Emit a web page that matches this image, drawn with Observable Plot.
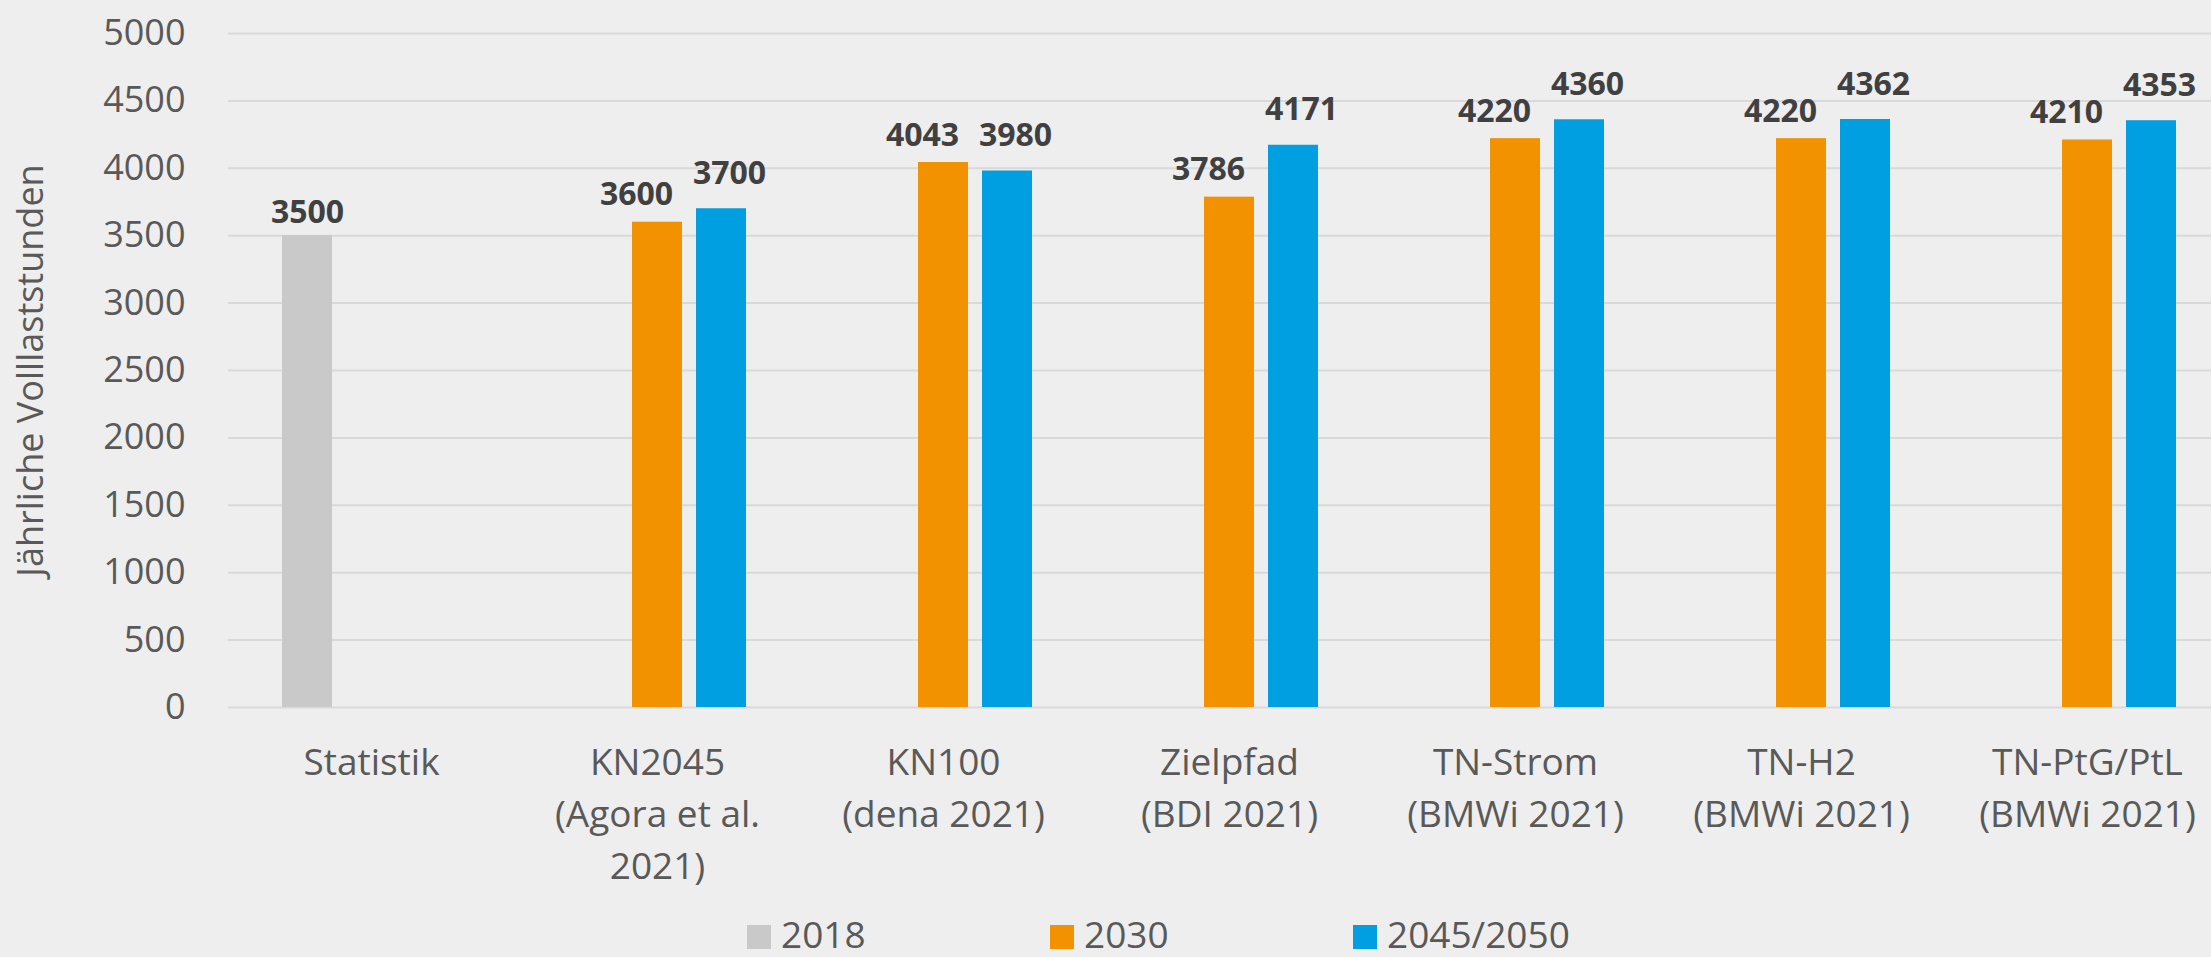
<!DOCTYPE html>
<html>
<head>
<meta charset="utf-8">
<script src="https://cdn.jsdelivr.net/npm/d3@7"></script>
<script src="https://cdn.jsdelivr.net/npm/@observablehq/plot@0.6"></script>
<style>
  html, body { margin: 0; padding: 0; background: #eeeeee; }
  body { width: 2211px; height: 957px; overflow: hidden; position: relative; font-family: 'Open Sans', sans-serif; }
  #legend { position: absolute; left: 747px; top: 914px; height: 40px; display: flex; }
  .item { width: 303px; display: flex; align-items: center; font-size: 37px; line-height: 40px; color: #595959; }
  .sw { width: 24px; height: 24px; margin-right: 10px; margin-top: 6px; }
</style>
</head>
<body>
<div id="chart"></div>
<div id="legend"></div>
<script>
// ---- data ----
const categories = [
  "Statistik",
  "KN2045\n(Agora et al.\n2021)",
  "KN100\n(dena 2021)",
  "Zielpfad\n(BDI 2021)",
  "TN-Strom\n(BMWi 2021)",
  "TN-H2\n(BMWi 2021)",
  "TN-PtG/PtL\n(BMWi 2021)"
];
const series = ["2018", "2030", "2045/2050"];
const values2018 = [3500, null, null, null, null, null, null];
const values2030 = [null, 3600, 4043, 3786, 4220, 4220, 4210];
const values2045 = [null, 3700, 3980, 4171, 4360, 4362, 4353];
const yTicks = [0, 500, 1000, 1500, 2000, 2500, 3000, 3500, 4000, 4500, 5000];
const colors = ["#c9c9c9", "#f29200", "#009fe1"];
const yTitle = "Jährliche Volllaststunden";

// ---- table ----
const seriesValues = [values2018, values2030, values2045];
const data = [];
categories.forEach((c, i) => {
  series.forEach((s, j) => {
    const v = seriesValues[j][i];
    if (v != null) data.push({category: c, series: s, value: v});
  });
});

const labelStyle = {
  "2018": {dx: 0, dy: -13},
  "2030": {dx: -21, dy: -17},
  "2045/2050": {dx: 8, dy: -25}
};

const W = 2211, H = 915, ML = 228, MT = 33, MB = H - 707;

const textMarks = series.map(s => Plot.text(data.filter(d => d.series === s), {
  fx: "category", x: "series", y: "value", text: d => String(d.value),
  lineAnchor: "bottom", dx: labelStyle[s].dx, dy: labelStyle[s].dy,
  fontSize: 32, fontWeight: "bold", fill: "#404040"
}));

const chart = Plot.plot({
  width: W, height: H,
  marginLeft: ML, marginRight: 0, marginTop: MT, marginBottom: MB,
  style: {background: "#eeeeee", fontFamily: "'Open Sans', sans-serif", color: "#595959"},
  fx: {domain: categories, range: [ML, ML + 7 * 286], padding: 0, label: null},
  x: {domain: series, paddingInner: 0.21875, paddingOuter: 0.84375, axis: null},
  y: {domain: [0, 5000]},
  color: {domain: series, range: colors},
  marks: [
    Plot.gridY(yTicks, {stroke: "#d9d9d9", strokeOpacity: 1, strokeWidth: 2}),
    Plot.axisY(yTicks, {
      tickSize: 0, tickPadding: 43, fontSize: 36, fill: "#595959",
      tickFormat: d => String(d),
      label: yTitle, labelAnchor: "center", labelArrow: "none", labelOffset: 211
    }),
    Plot.axisFx({anchor: "bottom", tickSize: 0, tickPadding: 31, fontSize: 37, lineHeight: 1.4, fill: "#595959", label: null}),
    Plot.barY(data, {fx: "category", x: "series", y: "value", fill: "series"}),
    ...textMarks
  ]
});
document.getElementById("chart").appendChild(chart);

// ---- legend ----
const legend = document.getElementById("legend");
series.forEach((s, i) => {
  const item = document.createElement("div");
  item.className = "item";
  const sw = document.createElement("div");
  sw.className = "sw";
  sw.style.background = colors[i];
  const t = document.createElement("span");
  t.textContent = s;
  item.appendChild(sw);
  item.appendChild(t);
  legend.appendChild(item);
});
</script>
</body>
</html>
